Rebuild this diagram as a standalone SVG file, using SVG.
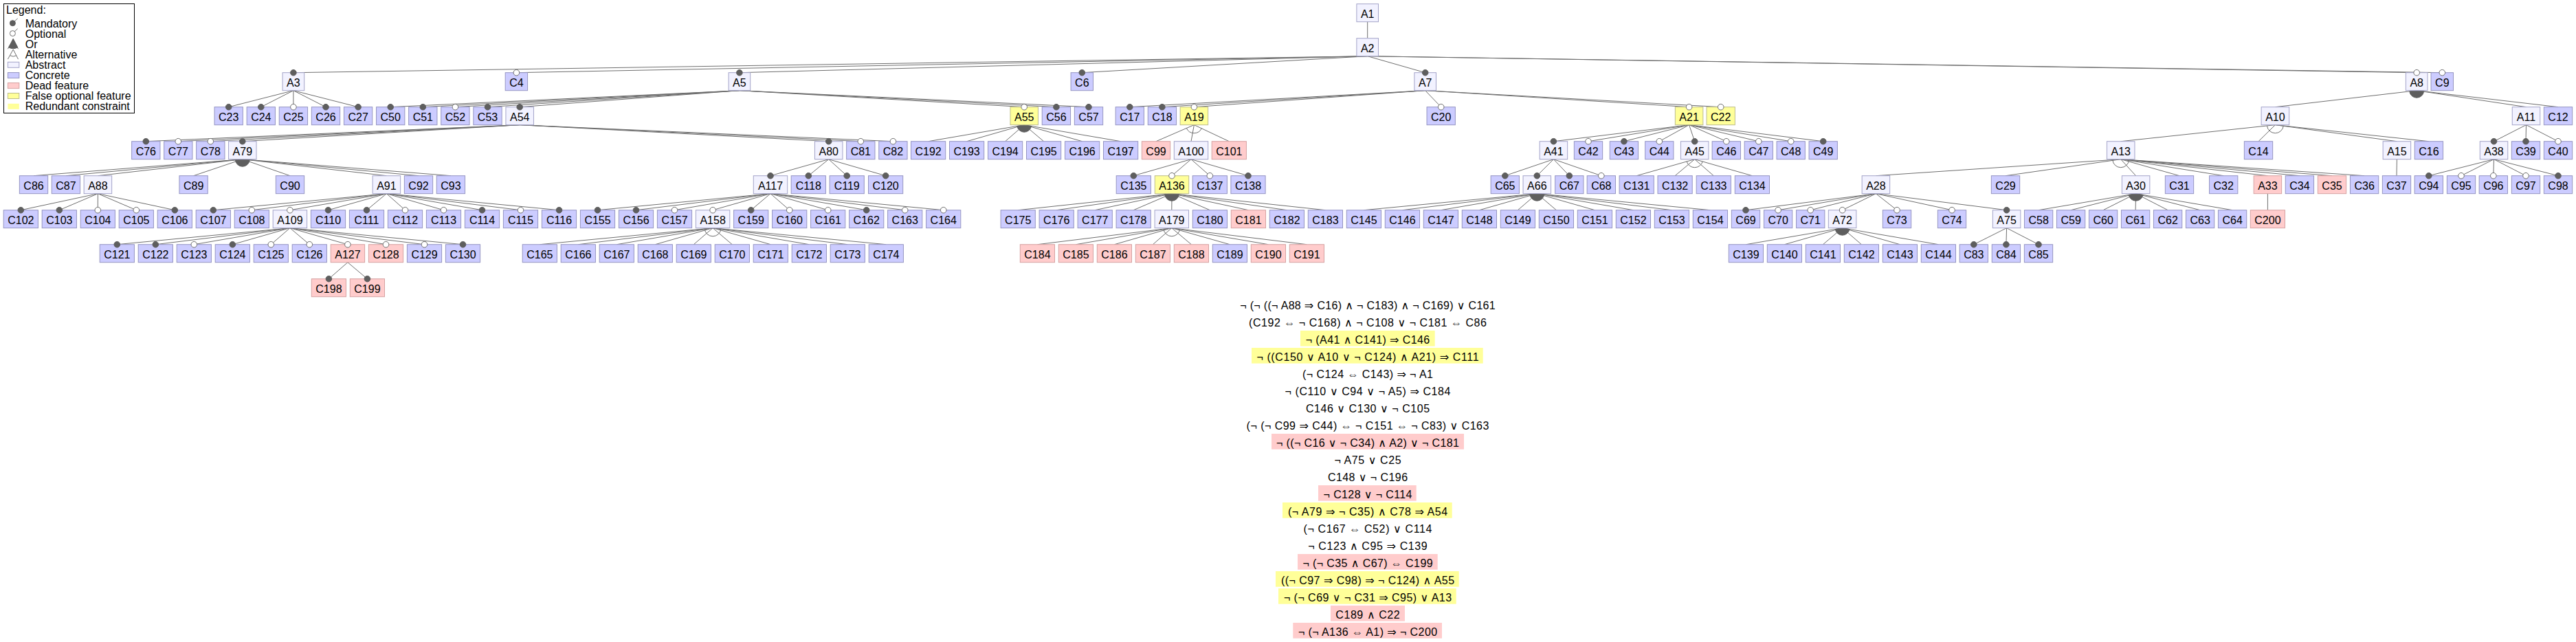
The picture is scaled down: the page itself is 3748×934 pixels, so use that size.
<svg xmlns="http://www.w3.org/2000/svg" width="3748" height="934" viewBox="0 0 3748 934">
<style>
text{font-family:"Liberation Sans",Arial,"DejaVu Sans",sans-serif;font-size:16px;fill:#000}
.n text{text-anchor:middle}
.n rect{stroke-width:1}
.abs rect{fill:#f2f2ff;stroke:#a3a3c9}
.con rect{fill:#ccccff;stroke:#9494c2}
.dead rect{fill:#ffcccc;stroke:#d6a2a2}
.fo rect{fill:#ffff99;stroke:#bcbc8c}
.e{stroke:#6e6e6e;stroke-width:1;fill:none}
.m{fill:#5e5e5e;stroke:#5e5e5e;stroke-width:1}
.o{fill:#fff;stroke:#6e6e6e;stroke-width:1}
.or{fill:#5e5e5e;stroke:#5e5e5e;stroke-width:1}
.alt{fill:none;stroke:#6e6e6e;stroke-width:1}
.c text{text-anchor:middle}
.hy{fill:#ffff99}
.hp{fill:#ffcccc}
</style>
<g id="legend">
<rect x="5.5" y="5.5" width="190" height="159" fill="#fff" stroke="#000"/>
<text x="9" y="20">Legend:</text>
<line class="e" x1="18.4" y1="33.7" x2="25.7" y2="26.8"/><circle class="m" cx="18.4" cy="33.7" r="4"/>
<text x="36.7" y="39.8">Mandatory</text>
<line class="e" x1="18.4" y1="48.6" x2="25.7" y2="41.7"/><circle class="o" cx="18.4" cy="48.6" r="4"/>
<text x="36.7" y="54.8">Optional</text>
<path class="e" d="M19.2 56.6L11.4 71.2M19.2 56.6L26.5 71.2"/><path class="or" d="M19.2 56.6L12.6 68.95A14 14 0 0 0 25.8 68.95Z"/>
<text x="36.7" y="69.8">Or</text>
<path class="e" d="M19.2 72L11.4 86.1M19.2 72L26.5 86.1"/><path class="alt" d="M14.36 80.76A10 10 0 0 0 24.04 80.76"/>
<text x="36.7" y="84.8">Alternative</text>
<rect x="11.4" y="90.3" width="16.4" height="8" fill="#f2f2ff" stroke="#a3a3c9"/>
<text x="36.7" y="99.8">Abstract</text>
<rect x="11.4" y="105.6" width="16.4" height="8" fill="#ccccff" stroke="#9494c2"/>
<text x="36.7" y="114.8">Concrete</text>
<rect x="11.4" y="120.6" width="16.4" height="8" fill="#ffcccc" stroke="#d6a2a2"/>
<text x="36.7" y="129.8">Dead feature</text>
<rect x="11.4" y="135.5" width="16.4" height="8" fill="#ffff99" stroke="#bcbc8c"/>
<text x="36.7" y="144.8">False optional feature</text>
<rect x="11.4" y="150.8" width="16.4" height="8" fill="#ffff99"/>
<text x="36.7" y="159.8">Redundant constraint</text>
</g>
<g id="connectors">
<path class="e" d="M1989.7 31.7L1989.7 55.7"/>
<path class="e" d="M1989.7 81.7L426.9 105.7M1989.7 81.7L751.4 105.7M1989.7 81.7L1075.9 105.7M1989.7 81.7L1574.3 105.7M1989.7 81.7L2073.7 105.7M1989.7 81.7L3516.2 105.7M1989.7 81.7L3553.3 105.7"/>
<path class="e" d="M426.9 131.7L332.7 155.7M426.9 131.7L379.8 155.7M426.9 131.7L426.9 155.7M426.9 131.7L474 155.7M426.9 131.7L521.1 155.7"/>
<path class="e" d="M1075.9 131.7L568.2 155.7M1075.9 131.7L615.3 155.7M1075.9 131.7L662.4 155.7M1075.9 131.7L709.5 155.7M1075.9 131.7L756.2 155.7M1075.9 131.7L1490.2 155.7M1075.9 131.7L1536.9 155.7M1075.9 131.7L1584 155.7"/>
<path class="e" d="M2073.7 131.7L1643.8 155.7M2073.7 131.7L1690.9 155.7M2073.7 131.7L1737.4 155.7M2073.7 131.7L2096.7 155.7M2073.7 131.7L2457.6 155.7M2073.7 131.7L2503.7 155.7"/>
<path class="e" d="M3516.2 131.7L3310.4 155.7M3516.2 131.7L3675.5 155.7M3516.2 131.7L3722 155.7"/>
<path class="or" d="M3516.2 131.7L3505.77 132.92A10.5 10.5 0 0 0 3526.63 132.92Z"/>
<path class="e" d="M756.2 181.7L212.3 205.7M756.2 181.7L259.3 205.7M756.2 181.7L306.3 205.7M756.2 181.7L352.8 205.7M756.2 181.7L1205.7 205.7M756.2 181.7L1252.3 205.7M756.2 181.7L1299.4 205.7"/>
<path class="e" d="M1490.2 181.7L1350.6 205.7M1490.2 181.7L1406.6 205.7M1490.2 181.7L1462.6 205.7M1490.2 181.7L1518.6 205.7M1490.2 181.7L1574.6 205.7M1490.2 181.7L1630.6 205.7"/>
<path class="or" d="M1490.2 181.7L1479.85 183.47A10.5 10.5 0 0 0 1500.55 183.47Z"/>
<path class="e" d="M1737.4 181.7L1682 205.7M1737.4 181.7L1733 205.7M1737.4 181.7L1788.3 205.7"/>
<path class="alt" d="M1726.39 186.47A12 12 0 0 0 1748.25 186.82"/>
<path class="e" d="M2457.6 181.7L2260.4 205.7M2457.6 181.7L2311 205.7M2457.6 181.7L2362.9 205.7M2457.6 181.7L2414.3 205.7M2457.6 181.7L2465.7 205.7M2457.6 181.7L2511.8 205.7M2457.6 181.7L2558.8 205.7M2457.6 181.7L2605.7 205.7M2457.6 181.7L2652.7 205.7"/>
<path class="e" d="M3310.4 181.7L3085.7 205.7M3310.4 181.7L3286 205.7M3310.4 181.7L3487.4 205.7M3310.4 181.7L3533.9 205.7"/>
<path class="alt" d="M3298.47 182.98A12 12 0 0 0 3322.33 182.98"/>
<path class="e" d="M3675.5 181.7L3628.5 205.7M3675.5 181.7L3675 205.7M3675.5 181.7L3722 205.7"/>
<path class="e" d="M352.8 231.7L49 255.7M352.8 231.7L95.9 255.7M352.8 231.7L142.4 255.7M352.8 231.7L281.6 255.7M352.8 231.7L422 255.7M352.8 231.7L562.4 255.7M352.8 231.7L609 255.7M352.8 231.7L655.9 255.7"/>
<path class="or" d="M352.8 231.7L342.33 232.53A10.5 10.5 0 0 0 363.27 232.53Z"/>
<path class="e" d="M1205.7 231.7L1121 255.7M1205.7 231.7L1176.3 255.7M1205.7 231.7L1232.2 255.7M1205.7 231.7L1288.6 255.7"/>
<path class="e" d="M1733 231.7L1649.3 255.7M1733 231.7L1705 255.7M1733 231.7L1760.3 255.7M1733 231.7L1816 255.7"/>
<path class="e" d="M2260.4 231.7L2189.8 255.7M2260.4 231.7L2236.3 255.7M2260.4 231.7L2283.3 255.7M2260.4 231.7L2329.8 255.7"/>
<path class="e" d="M2465.7 231.7L2381.2 255.7M2465.7 231.7L2437.1 255.7M2465.7 231.7L2493.3 255.7M2465.7 231.7L2549.4 255.7"/>
<path class="alt" d="M2454.16 234.98A12 12 0 0 0 2477.23 235.01"/>
<path class="e" d="M3085.7 231.7L2729.4 255.7M3085.7 231.7L2918 255.7M3085.7 231.7L3107.6 255.7M3085.7 231.7L3171 255.7M3085.7 231.7L3235.2 255.7M3085.7 231.7L3299.4 255.7M3085.7 231.7L3345.9 255.7M3085.7 231.7L3393 255.7M3085.7 231.7L3440.1 255.7"/>
<path class="alt" d="M3073.73 232.51A12 12 0 0 0 3097.67 232.51"/>
<path class="e" d="M3487.4 231.7L3487 255.7"/>
<path class="e" d="M3628.5 231.7L3533.8 255.7M3628.5 231.7L3581 255.7M3628.5 231.7L3627.8 255.7M3628.5 231.7L3675 255.7M3628.5 231.7L3722 255.7"/>
<path class="e" d="M142.4 281.7L30.3 305.7M142.4 281.7L86.3 305.7M142.4 281.7L142.3 305.7M142.4 281.7L198.3 305.7M142.4 281.7L254.3 305.7"/>
<path class="e" d="M562.4 281.7L310.3 305.7M562.4 281.7L366.3 305.7M562.4 281.7L421.9 305.7M562.4 281.7L477.5 305.7M562.4 281.7L533.5 305.7M562.4 281.7L589.5 305.7M562.4 281.7L645.5 305.7M562.4 281.7L701.5 305.7M562.4 281.7L757.5 305.7M562.4 281.7L813.5 305.7"/>
<path class="e" d="M1121 281.7L869.5 305.7M1121 281.7L925.5 305.7M1121 281.7L981.5 305.7M1121 281.7L1037.1 305.7M1121 281.7L1092.7 305.7M1121 281.7L1148.7 305.7M1121 281.7L1204.7 305.7M1121 281.7L1260.7 305.7M1121 281.7L1316.7 305.7M1121 281.7L1372.7 305.7"/>
<path class="e" d="M1705 281.7L1481.2 305.7M1705 281.7L1537.2 305.7M1705 281.7L1593.2 305.7M1705 281.7L1649.2 305.7M1705 281.7L1704.8 305.7M1705 281.7L1760.4 305.7M1705 281.7L1816.4 305.7M1705 281.7L1872.4 305.7M1705 281.7L1928.4 305.7"/>
<path class="or" d="M1705 281.7L1694.56 282.82A10.5 10.5 0 0 0 1715.44 282.82Z"/>
<path class="e" d="M2236.3 281.7L1984.4 305.7M2236.3 281.7L2040.4 305.7M2236.3 281.7L2096.4 305.7M2236.3 281.7L2152.4 305.7M2236.3 281.7L2208.4 305.7M2236.3 281.7L2264.4 305.7M2236.3 281.7L2320.4 305.7M2236.3 281.7L2376.4 305.7M2236.3 281.7L2432.4 305.7M2236.3 281.7L2488.4 305.7"/>
<path class="or" d="M2236.3 281.7L2225.85 282.7A10.5 10.5 0 0 0 2246.75 282.7Z"/>
<path class="e" d="M2729.4 281.7L2540 305.7M2729.4 281.7L2587.1 305.7M2729.4 281.7L2634.2 305.7M2729.4 281.7L2680.6 305.7M2729.4 281.7L2760 305.7M2729.4 281.7L2840 305.7M2729.4 281.7L2919.6 305.7"/>
<path class="e" d="M3107.6 281.7L2966.1 305.7M3107.6 281.7L3013.1 305.7M3107.6 281.7L3060.1 305.7M3107.6 281.7L3107.1 305.7M3107.6 281.7L3154.1 305.7M3107.6 281.7L3201.1 305.7M3107.6 281.7L3248.1 305.7"/>
<path class="or" d="M3107.6 281.7L3097.25 283.45A10.5 10.5 0 0 0 3117.95 283.45Z"/>
<path class="e" d="M3299.4 281.7L3299.4 305.7"/>
<path class="e" d="M421.9 331.7L170.3 355.7M421.9 331.7L226.3 355.7M421.9 331.7L282.3 355.7M421.9 331.7L338.3 355.7M421.9 331.7L394.3 355.7M421.9 331.7L450.3 355.7M421.9 331.7L505.9 355.7M421.9 331.7L561.5 355.7M421.9 331.7L617.5 355.7M421.9 331.7L673.5 355.7"/>
<path class="e" d="M1037.1 331.7L785.3 355.7M1037.1 331.7L841.3 355.7M1037.1 331.7L897.3 355.7M1037.1 331.7L953.3 355.7M1037.1 331.7L1009.3 355.7M1037.1 331.7L1065.3 355.7M1037.1 331.7L1121.3 355.7M1037.1 331.7L1177.3 355.7M1037.1 331.7L1233.3 355.7M1037.1 331.7L1289.3 355.7"/>
<path class="alt" d="M1025.15 332.84A12 12 0 0 0 1049.05 332.84"/>
<path class="e" d="M1704.8 331.7L1509.4 355.7M1704.8 331.7L1565.4 355.7M1704.8 331.7L1621.4 355.7M1704.8 331.7L1677.4 355.7M1704.8 331.7L1733.4 355.7M1704.8 331.7L1789.4 355.7M1704.8 331.7L1845.4 355.7M1704.8 331.7L1901.4 355.7"/>
<path class="alt" d="M1692.89 333.16A12 12 0 0 0 1716.71 333.16"/>
<path class="e" d="M2680.6 331.7L2540.4 355.7M2680.6 331.7L2596.4 355.7M2680.6 331.7L2652.4 355.7M2680.6 331.7L2708.4 355.7M2680.6 331.7L2764.4 355.7M2680.6 331.7L2820.4 355.7"/>
<path class="or" d="M2680.6 331.7L2670.25 333.47A10.5 10.5 0 0 0 2690.95 333.47Z"/>
<path class="e" d="M2919.6 331.7L2871.8 355.7M2919.6 331.7L2918.9 355.7M2919.6 331.7L2966 355.7"/>
<path class="e" d="M505.9 381.7L478.4 405.7M505.9 381.7L534.4 405.7"/>
</g>
<g id="nodes">
<g id="A1" class="n abs" transform="translate(1989.7 5.7)"><rect x="-15.8" width="31.6" height="26"/><text y="20.3">A1</text></g>
<g id="A2" class="n abs" transform="translate(1989.7 55.7)"><rect x="-15.8" width="31.6" height="26"/><text y="20.3">A2</text></g>
<g id="A3" class="n abs" transform="translate(426.9 105.7)"><rect x="-15.8" width="31.6" height="26"/><text y="20.3">A3</text></g>
<g id="C4" class="n con" transform="translate(751.4 105.7)"><rect x="-16.2" width="32.4" height="26"/><text y="20.3">C4</text></g>
<g id="A5" class="n abs" transform="translate(1075.9 105.7)"><rect x="-15.8" width="31.6" height="26"/><text y="20.3">A5</text></g>
<g id="C6" class="n con" transform="translate(1574.3 105.7)"><rect x="-16.2" width="32.4" height="26"/><text y="20.3">C6</text></g>
<g id="A7" class="n abs" transform="translate(2073.7 105.7)"><rect x="-15.8" width="31.6" height="26"/><text y="20.3">A7</text></g>
<g id="A8" class="n abs" transform="translate(3516.2 105.7)"><rect x="-15.8" width="31.6" height="26"/><text y="20.3">A8</text></g>
<g id="C9" class="n con" transform="translate(3553.3 105.7)"><rect x="-16.2" width="32.4" height="26"/><text y="20.3">C9</text></g>
<g id="C23" class="n con" transform="translate(332.7 155.7)"><rect x="-20.65" width="41.3" height="26"/><text y="20.3">C23</text></g>
<g id="C24" class="n con" transform="translate(379.8 155.7)"><rect x="-20.65" width="41.3" height="26"/><text y="20.3">C24</text></g>
<g id="C25" class="n con" transform="translate(426.9 155.7)"><rect x="-20.65" width="41.3" height="26"/><text y="20.3">C25</text></g>
<g id="C26" class="n con" transform="translate(474 155.7)"><rect x="-20.65" width="41.3" height="26"/><text y="20.3">C26</text></g>
<g id="C27" class="n con" transform="translate(521.1 155.7)"><rect x="-20.65" width="41.3" height="26"/><text y="20.3">C27</text></g>
<g id="C50" class="n con" transform="translate(568.2 155.7)"><rect x="-20.65" width="41.3" height="26"/><text y="20.3">C50</text></g>
<g id="C51" class="n con" transform="translate(615.3 155.7)"><rect x="-20.65" width="41.3" height="26"/><text y="20.3">C51</text></g>
<g id="C52" class="n con" transform="translate(662.4 155.7)"><rect x="-20.65" width="41.3" height="26"/><text y="20.3">C52</text></g>
<g id="C53" class="n con" transform="translate(709.5 155.7)"><rect x="-20.65" width="41.3" height="26"/><text y="20.3">C53</text></g>
<g id="A54" class="n abs" transform="translate(756.2 155.7)"><rect x="-20.25" width="40.5" height="26"/><text y="20.3">A54</text></g>
<g id="A55" class="n fo" transform="translate(1490.2 155.7)"><rect x="-20.25" width="40.5" height="26"/><text y="20.3">A55</text></g>
<g id="C56" class="n con" transform="translate(1536.9 155.7)"><rect x="-20.65" width="41.3" height="26"/><text y="20.3">C56</text></g>
<g id="C57" class="n con" transform="translate(1584 155.7)"><rect x="-20.65" width="41.3" height="26"/><text y="20.3">C57</text></g>
<g id="C17" class="n con" transform="translate(1643.8 155.7)"><rect x="-20.65" width="41.3" height="26"/><text y="20.3">C17</text></g>
<g id="C18" class="n con" transform="translate(1690.9 155.7)"><rect x="-20.65" width="41.3" height="26"/><text y="20.3">C18</text></g>
<g id="A19" class="n fo" transform="translate(1737.4 155.7)"><rect x="-20.25" width="40.5" height="26"/><text y="20.3">A19</text></g>
<g id="C20" class="n con" transform="translate(2096.7 155.7)"><rect x="-20.65" width="41.3" height="26"/><text y="20.3">C20</text></g>
<g id="A21" class="n fo" transform="translate(2457.6 155.7)"><rect x="-20.25" width="40.5" height="26"/><text y="20.3">A21</text></g>
<g id="C22" class="n fo" transform="translate(2503.7 155.7)"><rect x="-20.65" width="41.3" height="26"/><text y="20.3">C22</text></g>
<g id="A10" class="n abs" transform="translate(3310.4 155.7)"><rect x="-20.25" width="40.5" height="26"/><text y="20.3">A10</text></g>
<g id="A11" class="n abs" transform="translate(3675.5 155.7)"><rect x="-20.25" width="40.5" height="26"/><text y="20.3">A11</text></g>
<g id="C12" class="n con" transform="translate(3722 155.7)"><rect x="-20.65" width="41.3" height="26"/><text y="20.3">C12</text></g>
<g id="C76" class="n con" transform="translate(212.3 205.7)"><rect x="-20.65" width="41.3" height="26"/><text y="20.3">C76</text></g>
<g id="C77" class="n con" transform="translate(259.3 205.7)"><rect x="-20.65" width="41.3" height="26"/><text y="20.3">C77</text></g>
<g id="C78" class="n con" transform="translate(306.3 205.7)"><rect x="-20.65" width="41.3" height="26"/><text y="20.3">C78</text></g>
<g id="A79" class="n abs" transform="translate(352.8 205.7)"><rect x="-20.25" width="40.5" height="26"/><text y="20.3">A79</text></g>
<g id="A80" class="n abs" transform="translate(1205.7 205.7)"><rect x="-20.25" width="40.5" height="26"/><text y="20.3">A80</text></g>
<g id="C81" class="n con" transform="translate(1252.3 205.7)"><rect x="-20.65" width="41.3" height="26"/><text y="20.3">C81</text></g>
<g id="C82" class="n con" transform="translate(1299.4 205.7)"><rect x="-20.65" width="41.3" height="26"/><text y="20.3">C82</text></g>
<g id="C192" class="n con" transform="translate(1350.6 205.7)"><rect x="-25.1" width="50.2" height="26"/><text y="20.3">C192</text></g>
<g id="C193" class="n con" transform="translate(1406.6 205.7)"><rect x="-25.1" width="50.2" height="26"/><text y="20.3">C193</text></g>
<g id="C194" class="n con" transform="translate(1462.6 205.7)"><rect x="-25.1" width="50.2" height="26"/><text y="20.3">C194</text></g>
<g id="C195" class="n con" transform="translate(1518.6 205.7)"><rect x="-25.1" width="50.2" height="26"/><text y="20.3">C195</text></g>
<g id="C196" class="n con" transform="translate(1574.6 205.7)"><rect x="-25.1" width="50.2" height="26"/><text y="20.3">C196</text></g>
<g id="C197" class="n con" transform="translate(1630.6 205.7)"><rect x="-25.1" width="50.2" height="26"/><text y="20.3">C197</text></g>
<g id="C99" class="n dead" transform="translate(1682 205.7)"><rect x="-20.65" width="41.3" height="26"/><text y="20.3">C99</text></g>
<g id="A100" class="n abs" transform="translate(1733 205.7)"><rect x="-24.7" width="49.4" height="26"/><text y="20.3">A100</text></g>
<g id="C101" class="n dead" transform="translate(1788.3 205.7)"><rect x="-25.1" width="50.2" height="26"/><text y="20.3">C101</text></g>
<g id="A41" class="n abs" transform="translate(2260.4 205.7)"><rect x="-20.25" width="40.5" height="26"/><text y="20.3">A41</text></g>
<g id="C42" class="n con" transform="translate(2311 205.7)"><rect x="-20.65" width="41.3" height="26"/><text y="20.3">C42</text></g>
<g id="C43" class="n con" transform="translate(2362.9 205.7)"><rect x="-20.65" width="41.3" height="26"/><text y="20.3">C43</text></g>
<g id="C44" class="n con" transform="translate(2414.3 205.7)"><rect x="-20.65" width="41.3" height="26"/><text y="20.3">C44</text></g>
<g id="A45" class="n abs" transform="translate(2465.7 205.7)"><rect x="-20.25" width="40.5" height="26"/><text y="20.3">A45</text></g>
<g id="C46" class="n con" transform="translate(2511.8 205.7)"><rect x="-20.65" width="41.3" height="26"/><text y="20.3">C46</text></g>
<g id="C47" class="n con" transform="translate(2558.8 205.7)"><rect x="-20.65" width="41.3" height="26"/><text y="20.3">C47</text></g>
<g id="C48" class="n con" transform="translate(2605.7 205.7)"><rect x="-20.65" width="41.3" height="26"/><text y="20.3">C48</text></g>
<g id="C49" class="n con" transform="translate(2652.7 205.7)"><rect x="-20.65" width="41.3" height="26"/><text y="20.3">C49</text></g>
<g id="A13" class="n abs" transform="translate(3085.7 205.7)"><rect x="-20.25" width="40.5" height="26"/><text y="20.3">A13</text></g>
<g id="C14" class="n con" transform="translate(3286 205.7)"><rect x="-20.65" width="41.3" height="26"/><text y="20.3">C14</text></g>
<g id="A15" class="n abs" transform="translate(3487.4 205.7)"><rect x="-20.25" width="40.5" height="26"/><text y="20.3">A15</text></g>
<g id="C16" class="n con" transform="translate(3533.9 205.7)"><rect x="-20.65" width="41.3" height="26"/><text y="20.3">C16</text></g>
<g id="A38" class="n abs" transform="translate(3628.5 205.7)"><rect x="-20.25" width="40.5" height="26"/><text y="20.3">A38</text></g>
<g id="C39" class="n con" transform="translate(3675 205.7)"><rect x="-20.65" width="41.3" height="26"/><text y="20.3">C39</text></g>
<g id="C40" class="n con" transform="translate(3722 205.7)"><rect x="-20.65" width="41.3" height="26"/><text y="20.3">C40</text></g>
<g id="C86" class="n con" transform="translate(49 255.7)"><rect x="-20.65" width="41.3" height="26"/><text y="20.3">C86</text></g>
<g id="C87" class="n con" transform="translate(95.9 255.7)"><rect x="-20.65" width="41.3" height="26"/><text y="20.3">C87</text></g>
<g id="A88" class="n abs" transform="translate(142.4 255.7)"><rect x="-20.25" width="40.5" height="26"/><text y="20.3">A88</text></g>
<g id="C89" class="n con" transform="translate(281.6 255.7)"><rect x="-20.65" width="41.3" height="26"/><text y="20.3">C89</text></g>
<g id="C90" class="n con" transform="translate(422 255.7)"><rect x="-20.65" width="41.3" height="26"/><text y="20.3">C90</text></g>
<g id="A91" class="n abs" transform="translate(562.4 255.7)"><rect x="-20.25" width="40.5" height="26"/><text y="20.3">A91</text></g>
<g id="C92" class="n con" transform="translate(609 255.7)"><rect x="-20.65" width="41.3" height="26"/><text y="20.3">C92</text></g>
<g id="C93" class="n con" transform="translate(655.9 255.7)"><rect x="-20.65" width="41.3" height="26"/><text y="20.3">C93</text></g>
<g id="A117" class="n abs" transform="translate(1121 255.7)"><rect x="-24.7" width="49.4" height="26"/><text y="20.3">A117</text></g>
<g id="C118" class="n con" transform="translate(1176.3 255.7)"><rect x="-25.1" width="50.2" height="26"/><text y="20.3">C118</text></g>
<g id="C119" class="n con" transform="translate(1232.2 255.7)"><rect x="-25.1" width="50.2" height="26"/><text y="20.3">C119</text></g>
<g id="C120" class="n con" transform="translate(1288.6 255.7)"><rect x="-25.1" width="50.2" height="26"/><text y="20.3">C120</text></g>
<g id="C135" class="n con" transform="translate(1649.3 255.7)"><rect x="-25.1" width="50.2" height="26"/><text y="20.3">C135</text></g>
<g id="A136" class="n fo" transform="translate(1705 255.7)"><rect x="-24.7" width="49.4" height="26"/><text y="20.3">A136</text></g>
<g id="C137" class="n con" transform="translate(1760.3 255.7)"><rect x="-25.1" width="50.2" height="26"/><text y="20.3">C137</text></g>
<g id="C138" class="n con" transform="translate(1816 255.7)"><rect x="-25.1" width="50.2" height="26"/><text y="20.3">C138</text></g>
<g id="C65" class="n con" transform="translate(2189.8 255.7)"><rect x="-20.65" width="41.3" height="26"/><text y="20.3">C65</text></g>
<g id="A66" class="n abs" transform="translate(2236.3 255.7)"><rect x="-20.25" width="40.5" height="26"/><text y="20.3">A66</text></g>
<g id="C67" class="n con" transform="translate(2283.3 255.7)"><rect x="-20.65" width="41.3" height="26"/><text y="20.3">C67</text></g>
<g id="C68" class="n con" transform="translate(2329.8 255.7)"><rect x="-20.65" width="41.3" height="26"/><text y="20.3">C68</text></g>
<g id="C131" class="n con" transform="translate(2381.2 255.7)"><rect x="-25.1" width="50.2" height="26"/><text y="20.3">C131</text></g>
<g id="C132" class="n con" transform="translate(2437.1 255.7)"><rect x="-25.1" width="50.2" height="26"/><text y="20.3">C132</text></g>
<g id="C133" class="n con" transform="translate(2493.3 255.7)"><rect x="-25.1" width="50.2" height="26"/><text y="20.3">C133</text></g>
<g id="C134" class="n con" transform="translate(2549.4 255.7)"><rect x="-25.1" width="50.2" height="26"/><text y="20.3">C134</text></g>
<g id="A28" class="n abs" transform="translate(2729.4 255.7)"><rect x="-20.25" width="40.5" height="26"/><text y="20.3">A28</text></g>
<g id="C29" class="n con" transform="translate(2918 255.7)"><rect x="-20.65" width="41.3" height="26"/><text y="20.3">C29</text></g>
<g id="A30" class="n abs" transform="translate(3107.6 255.7)"><rect x="-20.25" width="40.5" height="26"/><text y="20.3">A30</text></g>
<g id="C31" class="n con" transform="translate(3171 255.7)"><rect x="-20.65" width="41.3" height="26"/><text y="20.3">C31</text></g>
<g id="C32" class="n con" transform="translate(3235.2 255.7)"><rect x="-20.65" width="41.3" height="26"/><text y="20.3">C32</text></g>
<g id="A33" class="n dead" transform="translate(3299.4 255.7)"><rect x="-20.25" width="40.5" height="26"/><text y="20.3">A33</text></g>
<g id="C34" class="n con" transform="translate(3345.9 255.7)"><rect x="-20.65" width="41.3" height="26"/><text y="20.3">C34</text></g>
<g id="C35" class="n dead" transform="translate(3393 255.7)"><rect x="-20.65" width="41.3" height="26"/><text y="20.3">C35</text></g>
<g id="C36" class="n con" transform="translate(3440.1 255.7)"><rect x="-20.65" width="41.3" height="26"/><text y="20.3">C36</text></g>
<g id="C37" class="n con" transform="translate(3487 255.7)"><rect x="-20.65" width="41.3" height="26"/><text y="20.3">C37</text></g>
<g id="C94" class="n con" transform="translate(3533.8 255.7)"><rect x="-20.65" width="41.3" height="26"/><text y="20.3">C94</text></g>
<g id="C95" class="n con" transform="translate(3581 255.7)"><rect x="-20.65" width="41.3" height="26"/><text y="20.3">C95</text></g>
<g id="C96" class="n con" transform="translate(3627.8 255.7)"><rect x="-20.65" width="41.3" height="26"/><text y="20.3">C96</text></g>
<g id="C97" class="n con" transform="translate(3675 255.7)"><rect x="-20.65" width="41.3" height="26"/><text y="20.3">C97</text></g>
<g id="C98" class="n con" transform="translate(3722 255.7)"><rect x="-20.65" width="41.3" height="26"/><text y="20.3">C98</text></g>
<g id="C102" class="n con" transform="translate(30.3 305.7)"><rect x="-25.1" width="50.2" height="26"/><text y="20.3">C102</text></g>
<g id="C103" class="n con" transform="translate(86.3 305.7)"><rect x="-25.1" width="50.2" height="26"/><text y="20.3">C103</text></g>
<g id="C104" class="n con" transform="translate(142.3 305.7)"><rect x="-25.1" width="50.2" height="26"/><text y="20.3">C104</text></g>
<g id="C105" class="n con" transform="translate(198.3 305.7)"><rect x="-25.1" width="50.2" height="26"/><text y="20.3">C105</text></g>
<g id="C106" class="n con" transform="translate(254.3 305.7)"><rect x="-25.1" width="50.2" height="26"/><text y="20.3">C106</text></g>
<g id="C107" class="n con" transform="translate(310.3 305.7)"><rect x="-25.1" width="50.2" height="26"/><text y="20.3">C107</text></g>
<g id="C108" class="n con" transform="translate(366.3 305.7)"><rect x="-25.1" width="50.2" height="26"/><text y="20.3">C108</text></g>
<g id="A109" class="n abs" transform="translate(421.9 305.7)"><rect x="-24.7" width="49.4" height="26"/><text y="20.3">A109</text></g>
<g id="C110" class="n con" transform="translate(477.5 305.7)"><rect x="-25.1" width="50.2" height="26"/><text y="20.3">C110</text></g>
<g id="C111" class="n con" transform="translate(533.5 305.7)"><rect x="-25.1" width="50.2" height="26"/><text y="20.3">C111</text></g>
<g id="C112" class="n con" transform="translate(589.5 305.7)"><rect x="-25.1" width="50.2" height="26"/><text y="20.3">C112</text></g>
<g id="C113" class="n con" transform="translate(645.5 305.7)"><rect x="-25.1" width="50.2" height="26"/><text y="20.3">C113</text></g>
<g id="C114" class="n con" transform="translate(701.5 305.7)"><rect x="-25.1" width="50.2" height="26"/><text y="20.3">C114</text></g>
<g id="C115" class="n con" transform="translate(757.5 305.7)"><rect x="-25.1" width="50.2" height="26"/><text y="20.3">C115</text></g>
<g id="C116" class="n con" transform="translate(813.5 305.7)"><rect x="-25.1" width="50.2" height="26"/><text y="20.3">C116</text></g>
<g id="C155" class="n con" transform="translate(869.5 305.7)"><rect x="-25.1" width="50.2" height="26"/><text y="20.3">C155</text></g>
<g id="C156" class="n con" transform="translate(925.5 305.7)"><rect x="-25.1" width="50.2" height="26"/><text y="20.3">C156</text></g>
<g id="C157" class="n con" transform="translate(981.5 305.7)"><rect x="-25.1" width="50.2" height="26"/><text y="20.3">C157</text></g>
<g id="A158" class="n abs" transform="translate(1037.1 305.7)"><rect x="-24.7" width="49.4" height="26"/><text y="20.3">A158</text></g>
<g id="C159" class="n con" transform="translate(1092.7 305.7)"><rect x="-25.1" width="50.2" height="26"/><text y="20.3">C159</text></g>
<g id="C160" class="n con" transform="translate(1148.7 305.7)"><rect x="-25.1" width="50.2" height="26"/><text y="20.3">C160</text></g>
<g id="C161" class="n con" transform="translate(1204.7 305.7)"><rect x="-25.1" width="50.2" height="26"/><text y="20.3">C161</text></g>
<g id="C162" class="n con" transform="translate(1260.7 305.7)"><rect x="-25.1" width="50.2" height="26"/><text y="20.3">C162</text></g>
<g id="C163" class="n con" transform="translate(1316.7 305.7)"><rect x="-25.1" width="50.2" height="26"/><text y="20.3">C163</text></g>
<g id="C164" class="n con" transform="translate(1372.7 305.7)"><rect x="-25.1" width="50.2" height="26"/><text y="20.3">C164</text></g>
<g id="C175" class="n con" transform="translate(1481.2 305.7)"><rect x="-25.1" width="50.2" height="26"/><text y="20.3">C175</text></g>
<g id="C176" class="n con" transform="translate(1537.2 305.7)"><rect x="-25.1" width="50.2" height="26"/><text y="20.3">C176</text></g>
<g id="C177" class="n con" transform="translate(1593.2 305.7)"><rect x="-25.1" width="50.2" height="26"/><text y="20.3">C177</text></g>
<g id="C178" class="n con" transform="translate(1649.2 305.7)"><rect x="-25.1" width="50.2" height="26"/><text y="20.3">C178</text></g>
<g id="A179" class="n abs" transform="translate(1704.8 305.7)"><rect x="-24.7" width="49.4" height="26"/><text y="20.3">A179</text></g>
<g id="C180" class="n con" transform="translate(1760.4 305.7)"><rect x="-25.1" width="50.2" height="26"/><text y="20.3">C180</text></g>
<g id="C181" class="n dead" transform="translate(1816.4 305.7)"><rect x="-25.1" width="50.2" height="26"/><text y="20.3">C181</text></g>
<g id="C182" class="n con" transform="translate(1872.4 305.7)"><rect x="-25.1" width="50.2" height="26"/><text y="20.3">C182</text></g>
<g id="C183" class="n con" transform="translate(1928.4 305.7)"><rect x="-25.1" width="50.2" height="26"/><text y="20.3">C183</text></g>
<g id="C145" class="n con" transform="translate(1984.4 305.7)"><rect x="-25.1" width="50.2" height="26"/><text y="20.3">C145</text></g>
<g id="C146" class="n con" transform="translate(2040.4 305.7)"><rect x="-25.1" width="50.2" height="26"/><text y="20.3">C146</text></g>
<g id="C147" class="n con" transform="translate(2096.4 305.7)"><rect x="-25.1" width="50.2" height="26"/><text y="20.3">C147</text></g>
<g id="C148" class="n con" transform="translate(2152.4 305.7)"><rect x="-25.1" width="50.2" height="26"/><text y="20.3">C148</text></g>
<g id="C149" class="n con" transform="translate(2208.4 305.7)"><rect x="-25.1" width="50.2" height="26"/><text y="20.3">C149</text></g>
<g id="C150" class="n con" transform="translate(2264.4 305.7)"><rect x="-25.1" width="50.2" height="26"/><text y="20.3">C150</text></g>
<g id="C151" class="n con" transform="translate(2320.4 305.7)"><rect x="-25.1" width="50.2" height="26"/><text y="20.3">C151</text></g>
<g id="C152" class="n con" transform="translate(2376.4 305.7)"><rect x="-25.1" width="50.2" height="26"/><text y="20.3">C152</text></g>
<g id="C153" class="n con" transform="translate(2432.4 305.7)"><rect x="-25.1" width="50.2" height="26"/><text y="20.3">C153</text></g>
<g id="C154" class="n con" transform="translate(2488.4 305.7)"><rect x="-25.1" width="50.2" height="26"/><text y="20.3">C154</text></g>
<g id="C69" class="n con" transform="translate(2540 305.7)"><rect x="-20.65" width="41.3" height="26"/><text y="20.3">C69</text></g>
<g id="C70" class="n con" transform="translate(2587.1 305.7)"><rect x="-20.65" width="41.3" height="26"/><text y="20.3">C70</text></g>
<g id="C71" class="n con" transform="translate(2634.2 305.7)"><rect x="-20.65" width="41.3" height="26"/><text y="20.3">C71</text></g>
<g id="A72" class="n abs" transform="translate(2680.6 305.7)"><rect x="-20.25" width="40.5" height="26"/><text y="20.3">A72</text></g>
<g id="C73" class="n con" transform="translate(2760 305.7)"><rect x="-20.65" width="41.3" height="26"/><text y="20.3">C73</text></g>
<g id="C74" class="n con" transform="translate(2840 305.7)"><rect x="-20.65" width="41.3" height="26"/><text y="20.3">C74</text></g>
<g id="A75" class="n abs" transform="translate(2919.6 305.7)"><rect x="-20.25" width="40.5" height="26"/><text y="20.3">A75</text></g>
<g id="C58" class="n con" transform="translate(2966.1 305.7)"><rect x="-20.65" width="41.3" height="26"/><text y="20.3">C58</text></g>
<g id="C59" class="n con" transform="translate(3013.1 305.7)"><rect x="-20.65" width="41.3" height="26"/><text y="20.3">C59</text></g>
<g id="C60" class="n con" transform="translate(3060.1 305.7)"><rect x="-20.65" width="41.3" height="26"/><text y="20.3">C60</text></g>
<g id="C61" class="n con" transform="translate(3107.1 305.7)"><rect x="-20.65" width="41.3" height="26"/><text y="20.3">C61</text></g>
<g id="C62" class="n con" transform="translate(3154.1 305.7)"><rect x="-20.65" width="41.3" height="26"/><text y="20.3">C62</text></g>
<g id="C63" class="n con" transform="translate(3201.1 305.7)"><rect x="-20.65" width="41.3" height="26"/><text y="20.3">C63</text></g>
<g id="C64" class="n con" transform="translate(3248.1 305.7)"><rect x="-20.65" width="41.3" height="26"/><text y="20.3">C64</text></g>
<g id="C200" class="n dead" transform="translate(3299.4 305.7)"><rect x="-25.1" width="50.2" height="26"/><text y="20.3">C200</text></g>
<g id="C121" class="n con" transform="translate(170.3 355.7)"><rect x="-25.1" width="50.2" height="26"/><text y="20.3">C121</text></g>
<g id="C122" class="n con" transform="translate(226.3 355.7)"><rect x="-25.1" width="50.2" height="26"/><text y="20.3">C122</text></g>
<g id="C123" class="n con" transform="translate(282.3 355.7)"><rect x="-25.1" width="50.2" height="26"/><text y="20.3">C123</text></g>
<g id="C124" class="n con" transform="translate(338.3 355.7)"><rect x="-25.1" width="50.2" height="26"/><text y="20.3">C124</text></g>
<g id="C125" class="n con" transform="translate(394.3 355.7)"><rect x="-25.1" width="50.2" height="26"/><text y="20.3">C125</text></g>
<g id="C126" class="n con" transform="translate(450.3 355.7)"><rect x="-25.1" width="50.2" height="26"/><text y="20.3">C126</text></g>
<g id="A127" class="n dead" transform="translate(505.9 355.7)"><rect x="-24.7" width="49.4" height="26"/><text y="20.3">A127</text></g>
<g id="C128" class="n dead" transform="translate(561.5 355.7)"><rect x="-25.1" width="50.2" height="26"/><text y="20.3">C128</text></g>
<g id="C129" class="n con" transform="translate(617.5 355.7)"><rect x="-25.1" width="50.2" height="26"/><text y="20.3">C129</text></g>
<g id="C130" class="n con" transform="translate(673.5 355.7)"><rect x="-25.1" width="50.2" height="26"/><text y="20.3">C130</text></g>
<g id="C165" class="n con" transform="translate(785.3 355.7)"><rect x="-25.1" width="50.2" height="26"/><text y="20.3">C165</text></g>
<g id="C166" class="n con" transform="translate(841.3 355.7)"><rect x="-25.1" width="50.2" height="26"/><text y="20.3">C166</text></g>
<g id="C167" class="n con" transform="translate(897.3 355.7)"><rect x="-25.1" width="50.2" height="26"/><text y="20.3">C167</text></g>
<g id="C168" class="n con" transform="translate(953.3 355.7)"><rect x="-25.1" width="50.2" height="26"/><text y="20.3">C168</text></g>
<g id="C169" class="n con" transform="translate(1009.3 355.7)"><rect x="-25.1" width="50.2" height="26"/><text y="20.3">C169</text></g>
<g id="C170" class="n con" transform="translate(1065.3 355.7)"><rect x="-25.1" width="50.2" height="26"/><text y="20.3">C170</text></g>
<g id="C171" class="n con" transform="translate(1121.3 355.7)"><rect x="-25.1" width="50.2" height="26"/><text y="20.3">C171</text></g>
<g id="C172" class="n con" transform="translate(1177.3 355.7)"><rect x="-25.1" width="50.2" height="26"/><text y="20.3">C172</text></g>
<g id="C173" class="n con" transform="translate(1233.3 355.7)"><rect x="-25.1" width="50.2" height="26"/><text y="20.3">C173</text></g>
<g id="C174" class="n con" transform="translate(1289.3 355.7)"><rect x="-25.1" width="50.2" height="26"/><text y="20.3">C174</text></g>
<g id="C184" class="n dead" transform="translate(1509.4 355.7)"><rect x="-25.1" width="50.2" height="26"/><text y="20.3">C184</text></g>
<g id="C185" class="n dead" transform="translate(1565.4 355.7)"><rect x="-25.1" width="50.2" height="26"/><text y="20.3">C185</text></g>
<g id="C186" class="n dead" transform="translate(1621.4 355.7)"><rect x="-25.1" width="50.2" height="26"/><text y="20.3">C186</text></g>
<g id="C187" class="n dead" transform="translate(1677.4 355.7)"><rect x="-25.1" width="50.2" height="26"/><text y="20.3">C187</text></g>
<g id="C188" class="n dead" transform="translate(1733.4 355.7)"><rect x="-25.1" width="50.2" height="26"/><text y="20.3">C188</text></g>
<g id="C189" class="n con" transform="translate(1789.4 355.7)"><rect x="-25.1" width="50.2" height="26"/><text y="20.3">C189</text></g>
<g id="C190" class="n dead" transform="translate(1845.4 355.7)"><rect x="-25.1" width="50.2" height="26"/><text y="20.3">C190</text></g>
<g id="C191" class="n dead" transform="translate(1901.4 355.7)"><rect x="-25.1" width="50.2" height="26"/><text y="20.3">C191</text></g>
<g id="C139" class="n con" transform="translate(2540.4 355.7)"><rect x="-25.1" width="50.2" height="26"/><text y="20.3">C139</text></g>
<g id="C140" class="n con" transform="translate(2596.4 355.7)"><rect x="-25.1" width="50.2" height="26"/><text y="20.3">C140</text></g>
<g id="C141" class="n con" transform="translate(2652.4 355.7)"><rect x="-25.1" width="50.2" height="26"/><text y="20.3">C141</text></g>
<g id="C142" class="n con" transform="translate(2708.4 355.7)"><rect x="-25.1" width="50.2" height="26"/><text y="20.3">C142</text></g>
<g id="C143" class="n con" transform="translate(2764.4 355.7)"><rect x="-25.1" width="50.2" height="26"/><text y="20.3">C143</text></g>
<g id="C144" class="n con" transform="translate(2820.4 355.7)"><rect x="-25.1" width="50.2" height="26"/><text y="20.3">C144</text></g>
<g id="C83" class="n con" transform="translate(2871.8 355.7)"><rect x="-20.65" width="41.3" height="26"/><text y="20.3">C83</text></g>
<g id="C84" class="n con" transform="translate(2918.9 355.7)"><rect x="-20.65" width="41.3" height="26"/><text y="20.3">C84</text></g>
<g id="C85" class="n con" transform="translate(2966 355.7)"><rect x="-20.65" width="41.3" height="26"/><text y="20.3">C85</text></g>
<g id="C198" class="n dead" transform="translate(478.4 405.7)"><rect x="-25.1" width="50.2" height="26"/><text y="20.3">C198</text></g>
<g id="C199" class="n dead" transform="translate(534.4 405.7)"><rect x="-25.1" width="50.2" height="26"/><text y="20.3">C199</text></g>
</g>
<g id="markers">
<g class="m">
<circle cx="426.9" cy="105.7" r="4.3"/><circle cx="1075.9" cy="105.7" r="4.3"/><circle cx="1574.3" cy="105.7" r="4.3"/><circle cx="2073.7" cy="105.7" r="4.3"/>
<circle cx="332.7" cy="155.7" r="4.3"/><circle cx="379.8" cy="155.7" r="4.3"/><circle cx="474" cy="155.7" r="4.3"/><circle cx="521.1" cy="155.7" r="4.3"/><circle cx="568.2" cy="155.7" r="4.3"/><circle cx="615.3" cy="155.7" r="4.3"/><circle cx="709.5" cy="155.7" r="4.3"/><circle cx="756.2" cy="155.7" r="4.3"/><circle cx="1536.9" cy="155.7" r="4.3"/><circle cx="1584" cy="155.7" r="4.3"/><circle cx="1643.8" cy="155.7" r="4.3"/><circle cx="1690.9" cy="155.7" r="4.3"/>
<circle cx="212.3" cy="205.7" r="4.3"/><circle cx="352.8" cy="205.7" r="4.3"/><circle cx="1205.7" cy="205.7" r="4.3"/><circle cx="2260.4" cy="205.7" r="4.3"/><circle cx="2362.9" cy="205.7" r="4.3"/><circle cx="2465.7" cy="205.7" r="4.3"/><circle cx="2652.7" cy="205.7" r="4.3"/><circle cx="3628.5" cy="205.7" r="4.3"/><circle cx="3675" cy="205.7" r="4.3"/>
<circle cx="1121" cy="255.7" r="4.3"/><circle cx="1176.3" cy="255.7" r="4.3"/><circle cx="1232.2" cy="255.7" r="4.3"/><circle cx="1288.6" cy="255.7" r="4.3"/><circle cx="1649.3" cy="255.7" r="4.3"/><circle cx="1816" cy="255.7" r="4.3"/><circle cx="2189.8" cy="255.7" r="4.3"/><circle cx="2236.3" cy="255.7" r="4.3"/><circle cx="2283.3" cy="255.7" r="4.3"/><circle cx="3533.8" cy="255.7" r="4.3"/><circle cx="3722" cy="255.7" r="4.3"/>
<circle cx="30.3" cy="305.7" r="4.3"/><circle cx="86.3" cy="305.7" r="4.3"/><circle cx="254.3" cy="305.7" r="4.3"/><circle cx="310.3" cy="305.7" r="4.3"/><circle cx="477.5" cy="305.7" r="4.3"/><circle cx="533.5" cy="305.7" r="4.3"/><circle cx="701.5" cy="305.7" r="4.3"/><circle cx="813.5" cy="305.7" r="4.3"/><circle cx="869.5" cy="305.7" r="4.3"/><circle cx="925.5" cy="305.7" r="4.3"/><circle cx="1092.7" cy="305.7" r="4.3"/><circle cx="1260.7" cy="305.7" r="4.3"/><circle cx="2540" cy="305.7" r="4.3"/><circle cx="2919.6" cy="305.7" r="4.3"/>
<circle cx="170.3" cy="355.7" r="4.3"/><circle cx="226.3" cy="355.7" r="4.3"/><circle cx="338.3" cy="355.7" r="4.3"/><circle cx="673.5" cy="355.7" r="4.3"/><circle cx="2871.8" cy="355.7" r="4.3"/><circle cx="2918.9" cy="355.7" r="4.3"/><circle cx="2966" cy="355.7" r="4.3"/>
<circle cx="478.4" cy="405.7" r="4.3"/><circle cx="534.4" cy="405.7" r="4.3"/>
</g>
<g class="o">
<circle cx="751.4" cy="105.7" r="4.3"/><circle cx="3516.2" cy="105.7" r="4.3"/><circle cx="3553.3" cy="105.7" r="4.3"/>
<circle cx="426.9" cy="155.7" r="4.3"/><circle cx="662.4" cy="155.7" r="4.3"/><circle cx="1490.2" cy="155.7" r="4.3"/><circle cx="1737.4" cy="155.7" r="4.3"/><circle cx="2096.7" cy="155.7" r="4.3"/><circle cx="2457.6" cy="155.7" r="4.3"/><circle cx="2503.7" cy="155.7" r="4.3"/>
<circle cx="259.3" cy="205.7" r="4.3"/><circle cx="306.3" cy="205.7" r="4.3"/><circle cx="1252.3" cy="205.7" r="4.3"/><circle cx="1299.4" cy="205.7" r="4.3"/><circle cx="2311" cy="205.7" r="4.3"/><circle cx="2414.3" cy="205.7" r="4.3"/><circle cx="2511.8" cy="205.7" r="4.3"/><circle cx="2558.8" cy="205.7" r="4.3"/><circle cx="2605.7" cy="205.7" r="4.3"/><circle cx="3722" cy="205.7" r="4.3"/>
<circle cx="1705" cy="255.7" r="4.3"/><circle cx="1760.3" cy="255.7" r="4.3"/><circle cx="2329.8" cy="255.7" r="4.3"/><circle cx="3581" cy="255.7" r="4.3"/><circle cx="3627.8" cy="255.7" r="4.3"/><circle cx="3675" cy="255.7" r="4.3"/>
<circle cx="142.3" cy="305.7" r="4.3"/><circle cx="198.3" cy="305.7" r="4.3"/><circle cx="366.3" cy="305.7" r="4.3"/><circle cx="421.9" cy="305.7" r="4.3"/><circle cx="589.5" cy="305.7" r="4.3"/><circle cx="645.5" cy="305.7" r="4.3"/><circle cx="757.5" cy="305.7" r="4.3"/><circle cx="981.5" cy="305.7" r="4.3"/><circle cx="1037.1" cy="305.7" r="4.3"/><circle cx="1148.7" cy="305.7" r="4.3"/><circle cx="1204.7" cy="305.7" r="4.3"/><circle cx="1316.7" cy="305.7" r="4.3"/><circle cx="1372.7" cy="305.7" r="4.3"/><circle cx="2587.1" cy="305.7" r="4.3"/><circle cx="2634.2" cy="305.7" r="4.3"/><circle cx="2680.6" cy="305.7" r="4.3"/><circle cx="2760" cy="305.7" r="4.3"/><circle cx="2840" cy="305.7" r="4.3"/>
<circle cx="282.3" cy="355.7" r="4.3"/><circle cx="394.3" cy="355.7" r="4.3"/><circle cx="450.3" cy="355.7" r="4.3"/><circle cx="505.9" cy="355.7" r="4.3"/><circle cx="561.5" cy="355.7" r="4.3"/><circle cx="617.5" cy="355.7" r="4.3"/>
</g>
</g>
<g id="constraints" class="c">
<rect class="hy" x="1892" y="481" width="195.7" height="22.7"/>
<rect class="hy" x="1821" y="506" width="336.7" height="22.7"/>
<rect class="hp" x="1850" y="631" width="280" height="22.7"/>
<rect class="hp" x="1918" y="706" width="142.7" height="22.7"/>
<rect class="hy" x="1866" y="731" width="246.7" height="22.7"/>
<rect class="hp" x="1888" y="806" width="203.7" height="22.7"/>
<rect class="hy" x="1856" y="831" width="266.7" height="22.7"/>
<rect class="hy" x="1860" y="856" width="258.7" height="22.7"/>
<rect class="hp" x="1936" y="881" width="108" height="22.7"/>
<rect class="hp" x="1881.3" y="906" width="216.7" height="22.7"/>
<text x="1990" y="449.7" textLength="371.5" lengthAdjust="spacing">¬ (¬ ((¬ A88 ⇒ C16) ∧ ¬ C183) ∧ ¬ C169) ∨ C161</text>
<text x="1990" y="474.7" textLength="345.8" lengthAdjust="spacing">(C192 ⇔ ¬ C168) ∧ ¬ C108 ∨ ¬ C181 ⇔ C86</text>
<text x="1990" y="499.7" textLength="180.5" lengthAdjust="spacing">¬ (A41 ∧ C141) ⇒ C146</text>
<text x="1990" y="524.7" textLength="323.2" lengthAdjust="spacing">¬ ((C150 ∨ A10 ∨ ¬ C124) ∧ A21) ⇒ C111</text>
<text x="1990" y="549.7" textLength="189.8" lengthAdjust="spacing">(¬ C124 ⇔ C143) ⇒ ¬ A1</text>
<text x="1990" y="574.7" textLength="240.8" lengthAdjust="spacing">¬ (C110 ∨ C94 ∨ ¬ A5) ⇒ C184</text>
<text x="1990" y="599.7" textLength="180.2" lengthAdjust="spacing">C146 ∨ C130 ∨ ¬ C105</text>
<text x="1990" y="624.7" textLength="352.8" lengthAdjust="spacing">(¬ (¬ C99 ⇒ C44) ⇔ ¬ C151 ⇔ ¬ C83) ∨ C163</text>
<text x="1990" y="649.7" textLength="265.9" lengthAdjust="spacing">¬ ((¬ C16 ∨ ¬ C34) ∧ A2) ∨ ¬ C181</text>
<text x="1990" y="674.7" textLength="97.2" lengthAdjust="spacing">¬ A75 ∨ C25</text>
<text x="1990" y="699.7" textLength="116.2" lengthAdjust="spacing">C148 ∨ ¬ C196</text>
<text x="1990" y="724.7" textLength="128.8" lengthAdjust="spacing">¬ C128 ∨ ¬ C114</text>
<text x="1990" y="749.7" textLength="232.2" lengthAdjust="spacing">(¬ A79 ⇒ ¬ C35) ∧ C78 ⇒ A54</text>
<text x="1990" y="774.7" textLength="186.8" lengthAdjust="spacing">(¬ C167 ⇔ C52) ∨ C114</text>
<text x="1990" y="799.7" textLength="173.5" lengthAdjust="spacing">¬ C123 ∧ C95 ⇒ C139</text>
<text x="1990" y="824.7" textLength="189.2" lengthAdjust="spacing">¬ (¬ C35 ∧ C67) ⇔ C199</text>
<text x="1990" y="849.7" textLength="252.2" lengthAdjust="spacing">((¬ C97 ⇒ C98) ⇒ ¬ C124) ∧ A55</text>
<text x="1990" y="874.7" textLength="244.2" lengthAdjust="spacing">¬ (¬ C69 ∨ ¬ C31 ⇒ C95) ∨ A13</text>
<text x="1990" y="899.7" textLength="93.5" lengthAdjust="spacing">C189 ∧ C22</text>
<text x="1990" y="924.7" textLength="202.2" lengthAdjust="spacing">¬ (¬ A136 ⇔ A1) ⇒ ¬ C200</text>
</g>
</svg>
